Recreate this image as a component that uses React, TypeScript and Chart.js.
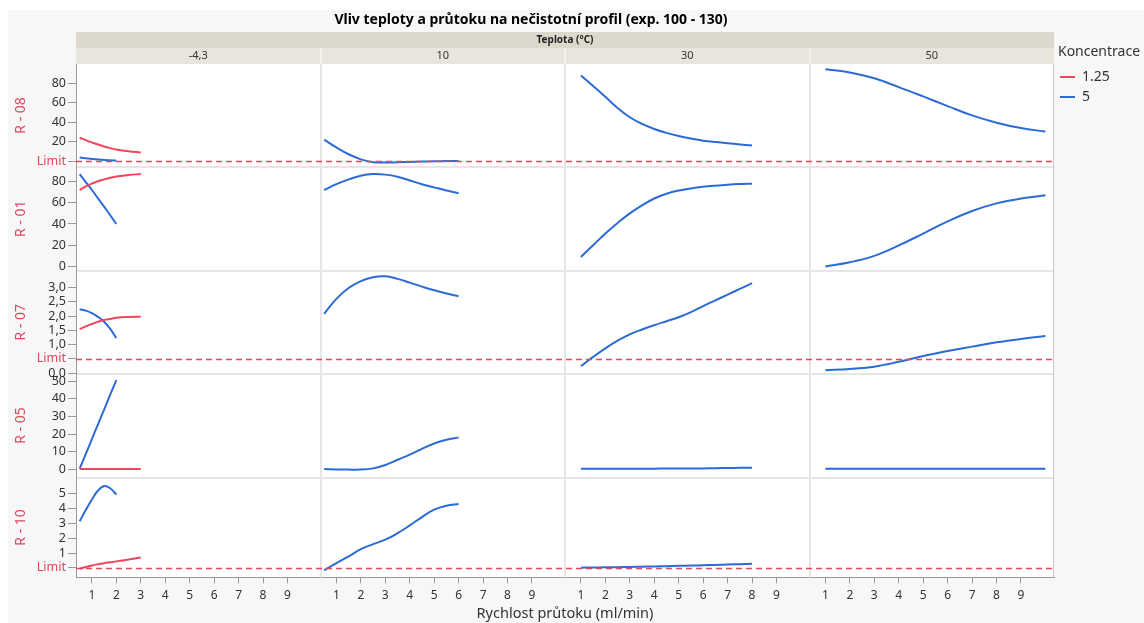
import React, { useEffect, useRef } from 'react';
import { Chart, registerables } from 'chart.js';

Chart.register(...registerables);

// ---------- text ----------
const chartTitle = 'Vliv teploty a průtoku na nečistotní profil (exp. 100 - 130)';
const stripTitle = 'Teplota (°C)';
const xAxisTitle = 'Rychlost průtoku (ml/min)';
const legendTitle = 'Koncentrace';

// ---------- categories ----------
const temperatureLabels = ['-4,3', '10', '30', '50'];
const impurityLabels = ['R - 08', 'R - 01', 'R - 07', 'R - 05', 'R - 10'];
const concentrationLabels = ['1.25', '5'];
const flowTickValues = [1, 2, 3, 4, 5, 6, 7, 8, 9];

// ---------- flow grids (x) ----------
const flowCold = [0.5, 0.75, 1, 1.25, 1.5, 1.75, 2, 2.5, 3];
const flowCold5 = [0.5, 0.75, 1, 1.25, 1.5, 1.75, 2];
const flow10 = [0.5, 1, 1.5, 2, 2.5, 3, 3.5, 4, 4.5, 5, 5.5, 6];
const flow30 = [1, 1.5, 2, 2.5, 3, 3.5, 4, 4.5, 5, 5.5, 6, 6.5, 7, 7.5, 8];
const flow50 = [1, 2, 3, 4, 5, 6, 7, 8, 9, 10];

// ---------- R - 08 ----------
const r08Cold125 = [24, 21.5, 19.2, 17, 15, 13.3, 11.8, 10, 8.8];
const r08Cold5 = [3.6, 2.9, 2.2, 1.6, 1.1, 0.8, 0.5];
const r08T10 = [22, 14, 7, 1.8, -1.2, -1.5, -1.2, -0.9, -0.5, -0.2, 0, 0.2];
const r08T30 = [88, 77.1, 66, 54.5, 45, 38.2, 33, 29, 25.8, 23.2, 21, 19.5, 18.3, 17.1, 16];
const r08T50 = [94.4, 91, 85, 76, 66.4, 56.5, 46.9, 39.4, 33.9, 30.3];

// ---------- R - 01 ----------
const r01Cold125 = [72, 75.5, 78, 80.3, 82, 83.5, 84.7, 86.2, 87];
const r01Cold5 = [87, 79.5, 72, 64.2, 56.3, 48.2, 40];
const r01T10 = [72, 77.5, 82, 85.5, 87, 86.5, 84.5, 81, 77.5, 74.5, 71.5, 69];
const r01T30 = [9, 20, 31, 41, 50, 57.5, 64, 68.5, 71.5, 73.5, 75, 76.1, 77, 77.6, 78];
const r01T50 = [0, 4, 10, 19.8, 31, 42.4, 52.2, 59.4, 64, 67];

// ---------- R - 07 ----------
const r07Cold125 = [1.54, 1.64, 1.72, 1.8, 1.86, 1.9, 1.94, 1.97, 1.98];
const r07Cold5 = [2.24, 2.19, 2.1, 1.97, 1.8, 1.55, 1.23];
const r07T10 = [2.08, 2.6, 2.98, 3.22, 3.36, 3.39, 3.3, 3.17, 3.03, 2.9, 2.79, 2.69];
const r07T30 = [0.25, 0.57, 0.87, 1.14, 1.36, 1.53, 1.68, 1.82, 1.96, 2.14, 2.35, 2.55, 2.75, 2.95, 3.15];
const r07T50 = [0.1, 0.15, 0.23, 0.4, 0.6, 0.78, 0.93, 1.08, 1.2, 1.3];

// ---------- R - 05 ----------
const r05Cold125 = [0.2, 0.2, 0.2, 0.2, 0.2, 0.2, 0.2, 0.2, 0.2];
const r05Cold5 = [0.4, 8.8, 17.2, 25.6, 34, 42.4, 50.7];
const r05T10 = [0.2, 0, -0.1, -0.1, 0.6, 2.5, 5.5, 8.4, 11.7, 14.7, 16.8, 18.2];
const r05T30 = [0.4, 0.4, 0.4, 0.4, 0.4, 0.42, 0.45, 0.48, 0.5, 0.55, 0.6, 0.7, 0.8, 0.9, 1.0];
const r05T50 = [0.35, 0.35, 0.35, 0.35, 0.35, 0.35, 0.35, 0.35, 0.35, 0.35];

// ---------- R - 10 ----------
const r10Cold125 = [-0.02, 0.1, 0.2, 0.28, 0.35, 0.41, 0.47, 0.6, 0.73];
const r10Cold5 = [3.15, 3.9, 4.6, 5.2, 5.5, 5.35, 4.93];
const r10T10 = [-0.13, 0.35, 0.8, 1.29, 1.62, 1.92, 2.35, 2.87, 3.43, 3.92, 4.18, 4.3];
const r10T30 = [0.05, 0.06, 0.07, 0.085, 0.1, 0.115, 0.13, 0.15, 0.17, 0.19, 0.21, 0.235, 0.26, 0.285, 0.31];

// ---------- axis values ----------
const yAxisMin = [-5.95, -4.05, -0.015, -4.58, -0.6];
const yAxisMax = [99.7, 93.8, 3.585, 54.35, 6.07];
const r08Ticks = [0, 20, 40, 60, 80];
const r01Ticks = [0, 20, 40, 60, 80];
const r07Ticks = [0, 0.5, 1, 1.5, 2, 2.5, 3];
const r05Ticks = [0, 10, 20, 30, 40, 50];
const r10Ticks = [0.05, 1, 2, 3, 4, 5];
const yTickValues = [r08Ticks, r01Ticks, r07Ticks, r05Ticks, r10Ticks];
const yTickDecimals = [0, 0, 1, 0, 0];
const limitValues: (number | null)[] = [0, null, 0.5, null, 0.05];
const xAxisMin = 0.35;
const xAxisMax = 10.35;

// [row, column, concentration, flows, values]
const seriesTable: [number, number, number, number[], number[]][] = [
  [0, 0, 0, flowCold, r08Cold125],
  [0, 0, 1, flowCold5, r08Cold5],
  [0, 1, 1, flow10, r08T10],
  [0, 2, 1, flow30, r08T30],
  [0, 3, 1, flow50, r08T50],
  [1, 0, 0, flowCold, r01Cold125],
  [1, 0, 1, flowCold5, r01Cold5],
  [1, 1, 1, flow10, r01T10],
  [1, 2, 1, flow30, r01T30],
  [1, 3, 1, flow50, r01T50],
  [2, 0, 0, flowCold, r07Cold125],
  [2, 0, 1, flowCold5, r07Cold5],
  [2, 1, 1, flow10, r07T10],
  [2, 2, 1, flow30, r07T30],
  [2, 3, 1, flow50, r07T50],
  [3, 0, 0, flowCold, r05Cold125],
  [3, 0, 1, flowCold5, r05Cold5],
  [3, 1, 1, flow10, r05T10],
  [3, 2, 1, flow30, r05T30],
  [3, 3, 1, flow50, r05T50],
  [4, 0, 0, flowCold, r10Cold125],
  [4, 0, 1, flowCold5, r10Cold5],
  [4, 1, 1, flow10, r10T10],
  [4, 2, 1, flow30, r10T30],
];

// ---------- styles ----------
const RED = '#f0465a';
const BLUE = '#2c6bd6';
const LABEL_RED = '#e0475b';
const TEXT = '#333333';
const AXIS = '#9a9a9a';
const FONT = '"Noto Sans", "DejaVu Sans", sans-serif';
const rowWeights = [103, 104, 103, 104, 100];

const facetPlugin = {
  id: 'facetDecor',
  beforeLayout(chart: any) {
    const lg = chart.legend;
    if (lg && !lg.__fixedWidth) {
      const origFit = lg.fit.bind(lg);
      lg.fit = () => {
        origFit();
        lg.width = 90;
      };
      lg.__fixedWidth = true;
    }
  },
  beforeDraw(chart: any) {
    const { ctx, chartArea: a } = chart;
    ctx.save();
    ctx.fillStyle = '#ffffff';
    ctx.fillRect(a.left, a.top, a.right - a.left, a.bottom - a.top);
    // main title
    ctx.fillStyle = '#000000';
    ctx.font = `bold 14px ${FONT}`;
    ctx.textAlign = 'center';
    ctx.textBaseline = 'middle';
    ctx.fillText(chartTitle, a.right / 2, 10);
    // legend heading
    ctx.fillStyle = TEXT;
    ctx.font = `14px ${FONT}`;
    ctx.fillText(legendTitle, a.right + 45, a.top - 12);
    // strips
    ctx.fillStyle = '#dcd9cc';
    ctx.fillRect(a.left, a.top - 32, a.right - a.left, 16);
    ctx.fillStyle = '#e7e5dc';
    ctx.fillRect(a.left, a.top - 16, a.right - a.left, 16);
    ctx.fillStyle = '#222222';
    ctx.font = `bold 10px ${FONT}`;
    ctx.fillText(stripTitle, (a.left + a.right) / 2, a.top - 24);
    ctx.font = `11px ${FONT}`;
    ctx.fillStyle = TEXT;
    temperatureLabels.forEach((t, c) => {
      const s = chart.scales['x' + c];
      ctx.fillText(t, (s.left + s.right) / 2, a.top - 8);
    });
    ctx.restore();
  },
  beforeDatasetsDraw(chart: any) {
    const { ctx, chartArea: a } = chart;
    ctx.save();
    ctx.lineWidth = 2;
    for (let c = 1; c < temperatureLabels.length; c++) {
      const x = Math.round(chart.scales['x' + c].left);
      ctx.strokeStyle = '#e6e6e6';
      ctx.beginPath();
      ctx.moveTo(x, a.top);
      ctx.lineTo(x, a.bottom);
      ctx.stroke();
      ctx.strokeStyle = '#f3f2ed';
      ctx.beginPath();
      ctx.moveTo(x, a.top - 16);
      ctx.lineTo(x, a.top);
      ctx.stroke();
    }
    ctx.strokeStyle = '#e6e6e6';
    for (let r = 1; r < impurityLabels.length; r++) {
      const y = Math.round(chart.scales['y' + r].top);
      ctx.beginPath();
      ctx.moveTo(a.left + 1, y);
      ctx.lineTo(a.right, y);
      ctx.stroke();
    }
    ctx.lineWidth = 1;
    ctx.strokeStyle = '#c6c6c6';
    ctx.beginPath();
    ctx.moveTo(a.right - 0.5, a.top);
    ctx.lineTo(a.right - 0.5, a.bottom);
    ctx.stroke();
    ctx.restore();
  },
  afterDatasetsDraw(chart: any) {
    const { ctx, chartArea: a } = chart;
    ctx.save();
    ctx.setLineDash([6, 4]);
    ctx.lineWidth = 1.3;
    ctx.strokeStyle = '#e8465a';
    limitValues.forEach((lim, r) => {
      if (lim === null) return;
      const y = Math.round(chart.scales['y' + r].getPixelForValue(lim)) + 0.5;
      ctx.beginPath();
      ctx.moveTo(a.left, y);
      ctx.lineTo(a.right, y);
      ctx.stroke();
    });
    ctx.restore();
  },
};

function buildConfig(): any {
  const datasets = seriesTable.map(([row, col, conc, flows, values]) => ({
    label: concentrationLabels[conc],
    data: flows.map((x, i) => ({ x, y: values[i] })),
    xAxisID: 'x' + col,
    yAxisID: 'y' + row,
    borderColor: conc === 0 ? RED : BLUE,
    backgroundColor: conc === 0 ? RED : BLUE,
    borderWidth: 2,
    pointRadius: 0,
    fill: false,
    tension: 0.4,
  }));
  const firstRed = seriesTable.findIndex((s) => s[2] === 0);
  const firstBlue = seriesTable.findIndex((s) => s[2] === 1);

  const scales: any = {};
  temperatureLabels.forEach((_, c) => {
    scales['x' + c] = {
      type: 'linear',
      axis: 'x',
      position: 'bottom',
      stack: 'cols',
      stackWeight: 1,
      min: xAxisMin,
      max: xAxisMax,
      afterBuildTicks: (s: any) => {
        s.ticks = flowTickValues.map((v) => ({ value: v }));
      },
      afterFit: (s: any) => {
        s.height = 28.2;
      },
      ticks: { autoSkip: false, maxRotation: 0, padding: 5, color: TEXT, font: { size: 12 } },
      grid: { display: true, drawOnChartArea: false, drawTicks: true, tickLength: 6, tickColor: AXIS },
      border: { display: true, color: AXIS, width: 1 },
    };
  });
  impurityLabels.forEach((name, r) => {
    const lim = limitValues[r];
    scales['y' + r] = {
      type: 'linear',
      axis: 'y',
      position: 'left',
      stack: 'rows',
      stackWeight: rowWeights[r],
      weight: impurityLabels.length - r,
      min: yAxisMin[r],
      max: yAxisMax[r],
      afterBuildTicks: (s: any) => {
        s.ticks = yTickValues[r].map((v) => ({ value: v }));
      },
      afterFit: (s: any) => {
        s.width = 68;
      },
      ticks: {
        autoSkip: false,
        padding: 2,
        font: { size: 12.5 },
        color: (ctx: any) => (ctx.tick && lim !== null && ctx.tick.value === lim ? LABEL_RED : TEXT),
        callback: (v: any) =>
          lim !== null && v === lim ? 'Limit' : Number(v).toFixed(yTickDecimals[r]).replace('.', ','),
      },
      grid: { display: true, drawOnChartArea: false, drawTicks: true, tickLength: 8, tickColor: AXIS },
      border: { display: true, color: AXIS, width: 1 },
      title: {
        display: true,
        text: name,
        color: LABEL_RED,
        font: { size: 14 },
        padding: { top: 4.6, bottom: 0 },
      },
    };
  });

  return {
    type: 'line',
    data: { datasets },
    plugins: [facetPlugin],
    options: {
      responsive: false,
      maintainAspectRatio: false,
      animation: false,
      devicePixelRatio: 1,
      events: [],
      layout: { padding: { top: 54, left: 0, right: 0, bottom: 0 } },
      scales,
      plugins: {
        tooltip: { enabled: false },
        title: { display: false },
        subtitle: {
          display: true,
          text: xAxisTitle,
          position: 'bottom',
          fullSize: false,
          color: TEXT,
          font: { size: 14.5, weight: 'normal' },
          padding: { top: 0, bottom: 0 },
        },
        legend: {
          display: true,
          position: 'right',
          align: 'start',
          title: { display: false },
          labels: {
            color: TEXT,
            font: { size: 14 },
            usePointStyle: true,
            pointStyle: 'line',
            pointStyleWidth: 15,
            padding: 6,
            filter: (item: any) => item.datasetIndex === firstRed || item.datasetIndex === firstBlue,
          },
        },
      },
    },
  };
}

export default function App() {
  const ref = useRef<HTMLCanvasElement>(null);
  useEffect(() => {
    Chart.defaults.font.family = FONT;
    Chart.defaults.color = TEXT;
    const chart = new Chart(ref.current as HTMLCanvasElement, buildConfig());
    return () => chart.destroy();
  }, []);
  return (
    <div
      style={{
        position: 'fixed',
        left: 0,
        top: 0,
        width: 1144,
        height: 623,
        background: '#ffffff',
        overflow: 'hidden',
      }}
    >
      <div
        style={{
          position: 'absolute',
          left: 8,
          top: 10,
          width: 1136,
          height: 613,
          background: '#f7f7f7',
        }}
      >
        <canvas ref={ref} width={1136} height={613} style={{ display: 'block', width: 1136, height: 613 }} />
      </div>
    </div>
  );
}
